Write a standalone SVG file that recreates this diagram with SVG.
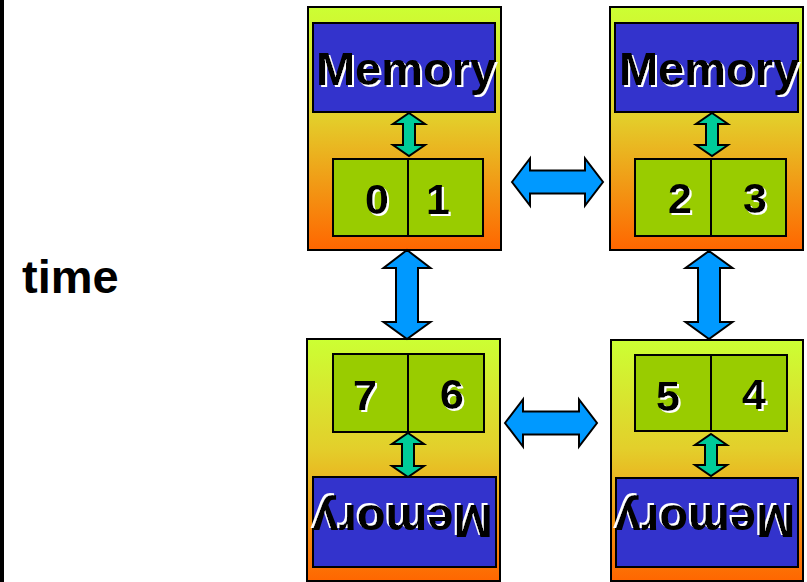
<svg xmlns="http://www.w3.org/2000/svg" width="807" height="582" viewBox="0 0 807 582">
  <defs>
    <linearGradient id="bodyFill" x1="0" y1="0" x2="0" y2="1">
      <stop offset="0" stop-color="#CCFF33"/>
      <stop offset="0.45" stop-color="#E3CF2B"/>
      <stop offset="1" stop-color="#FF6600"/>
    </linearGradient>
    <!-- white drop shadow behind bold labels -->
    <filter id="whiteShadow" x="-10%" y="-20%" width="120%" height="140%">
      <feFlood flood-color="#fff" result="white"/>
      <feComposite in="white" in2="SourceAlpha" operator="in" result="mask"/>
      <feOffset in="mask" dx="2" dy="2" result="shifted"/>
      <feMerge>
        <feMergeNode in="shifted"/>
        <feMergeNode in="SourceGraphic"/>
      </feMerge>
    </filter>
  </defs>
  <style>
    .body { fill: url(#bodyFill); stroke: #000; stroke-width: 2; }
    .mem { fill: #3333CC; stroke: #000; stroke-width: 2; }
    .cpu { fill: #99CC00; stroke: #000; stroke-width: 2; }
    .divider { stroke: #000; stroke-width: 2; }
    .bus { fill: #00CC99; stroke: #000; stroke-width: 2; stroke-linejoin: miter; }
    .link { fill: #0099FF; stroke: #000; stroke-width: 2; stroke-linejoin: miter; }
    .memtxt { font-family: "Liberation Sans", Arial, sans-serif; font-weight: bold; font-size: 47px; text-anchor: middle; fill: #000; filter: url(#whiteShadow); }
    .num { font-family: "Liberation Sans", Arial, sans-serif; font-weight: bold; font-size: 43px; text-anchor: middle; fill: #000; filter: url(#whiteShadow); }
    .label { font-family: "Liberation Sans", Arial, sans-serif; font-weight: bold; font-size: 47px; fill: #000; }
  </style>

  <rect x="0" y="0" width="807" height="582" fill="#fff"/>
  <rect x="0" y="0" width="4" height="582" fill="#000"/>

  <text class="label" x="22" y="293">time</text>

  <!-- node 0/1 : top left -->
  <g id="node-01">
    <rect class="body" x="308" y="7" width="193" height="243"/>
    <rect class="mem" x="313" y="23" width="182" height="89"/>
    <text class="memtxt" x="406" y="85">Memory</text>
    <polygon class="bus" points="409,113 425,124 415,124 415,145 425,145 409,156 393,145 403,145 403,124 393,124"/>
    <rect class="cpu" x="333" y="159" width="150" height="77"/>
    <line class="divider" x1="408" y1="159" x2="408" y2="236"/>
    <text class="num" x="377" y="214">0</text>
    <text class="num" x="438" y="214">1</text>
  </g>

  <!-- node 2/3 : top right -->
  <g id="node-23">
    <rect class="body" x="610" y="7" width="193" height="243"/>
    <rect class="mem" x="615" y="23" width="183" height="89"/>
    <text class="memtxt" x="709" y="85">Memory</text>
    <polygon class="bus" points="712,113 728,124 718,124 718,145 728,145 712,156 696,145 706,145 706,124 696,124"/>
    <rect class="cpu" x="635" y="159" width="151" height="77"/>
    <line class="divider" x1="711" y1="159" x2="711" y2="236"/>
    <text class="num" x="680" y="213">2</text>
    <text class="num" x="755" y="213">3</text>
  </g>

  <!-- node 7/6 : bottom left -->
  <g id="node-76">
    <rect class="body" x="307" y="339" width="193" height="242"/>
    <rect class="cpu" x="333" y="354" width="151" height="78"/>
    <line class="divider" x1="408" y1="354" x2="408" y2="432"/>
    <text class="num" x="365" y="410">7</text>
    <text class="num" x="452" y="409">6</text>
    <polygon class="bus" points="408,433 424,444 414,444 414,466 424,466 408,477 392,466 402,466 402,444 392,444"/>
    <rect class="mem" x="313" y="477" width="183" height="90"/>
    <g transform="rotate(180 404.5 522)">
      <text class="memtxt" x="406.5" y="539.5">Memory</text>
    </g>
  </g>

  <!-- node 5/4 : bottom right -->
  <g id="node-54">
    <rect class="body" x="611" y="340" width="192" height="241"/>
    <rect class="cpu" x="635" y="355" width="152" height="76"/>
    <line class="divider" x1="711" y1="355" x2="711" y2="431"/>
    <text class="num" x="668" y="411">5</text>
    <text class="num" x="754" y="409">4</text>
    <polygon class="bus" points="711,434 727,445 717,445 717,465 727,465 711,476 695,465 705,465 705,445 695,445"/>
    <rect class="mem" x="616" y="478" width="182" height="89"/>
    <g transform="rotate(180 707 522.5)">
      <text class="memtxt" x="709" y="540">Memory</text>
    </g>
  </g>

  <!-- links between nodes -->
  <g id="connectors">
    <polygon class="link" points="512,182 530,158.5 530,170.5 585,170.5 585,158.5 603,182 585,205.5 585,193.5 530,193.5 530,205.5"/>
    <polygon class="link" points="505,423 523,399.5 523,411.5 579,411.5 579,399.5 597,423 579,446.5 579,434.5 523,434.5 523,446.5"/>
    <polygon class="link" points="407,250 430.5,268 418,268 418,322 430.5,322 407,339 383.5,322 396,322 396,268 383.5,268"/>
    <polygon class="link" points="709,251 732.5,268 720,268 720,322 732.5,322 709,339 685.5,322 698,322 698,268 685.5,268"/>
  </g>
</svg>
